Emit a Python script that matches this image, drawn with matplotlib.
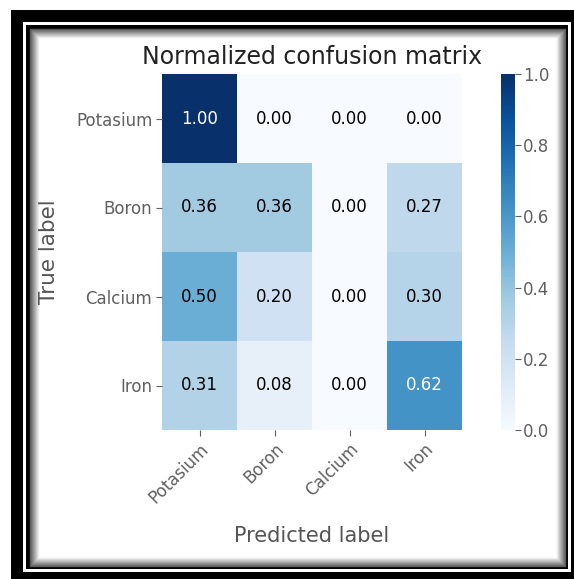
import numpy as np
import matplotlib
matplotlib.use("Agg")
import matplotlib.pyplot as plt
from matplotlib.patches import Rectangle

classes = ['Potasium', 'Boron', 'Calcium', 'Iron']
cm = np.array([
    [1.00, 0.00, 0.00, 0.00],
    [0.36, 0.36, 0.00, 0.27],
    [0.50, 0.20, 0.00, 0.30],
    [0.31, 0.08, 0.00, 0.62],
])

W, H = 574, 579
fig = plt.figure(figsize=(W / 100, H / 100), dpi=100)
fig.patch.set_facecolor('white')
plt.rcParams['font.family'] = ['DejaVu Sans']


def px_box(x0, y0, x1, y1):
    # pixel box (top-left origin) -> figure fraction rect
    return [x0 / W, 1 - y1 / H, (x1 - x0) / W, (y1 - y0) / H]


def frame_rect(x0, y0, x1, y1, **kw):
    l, b, w, h = px_box(x0, y0, x1, y1)
    fig.patches.append(Rectangle((l, b), w, h, transform=fig.transFigure, **kw))


# picture frame: thick black, thin white line, black, soft inner shadow
frame_rect(11, 10, 574, 579, facecolor='black', edgecolor='none', zorder=-5)
frame_rect(23, 22, 571, 572, facecolor='white', edgecolor='none', zorder=-4)
frame_rect(26, 25, 568, 569, facecolor='black', edgecolor='none', zorder=-3)
frame_rect(30, 29, 565, 566, facecolor='white', edgecolor='none', zorder=-2)
for i in range(10):
    g = 0.35 + 0.07 * i
    frame_rect(30 + i, 29 + i, 565 - i, 566 - i, facecolor='none',
               edgecolor=(g, g, g), linewidth=1.0, zorder=-1)

ax = fig.add_axes(px_box(162, 74, 462, 430))
cax = fig.add_axes(px_box(501, 74, 515, 430))

im = ax.imshow(cm, interpolation='nearest', cmap=plt.cm.Blues, aspect='auto',
               vmin=0, vmax=1)
ax.set_title('Normalized confusion matrix', fontsize=17, color='#222222', pad=7)

tick_color = '#606060'
ticks = np.arange(len(classes))
ax.set_xticks(ticks)
ax.set_yticks(ticks)
ax.set_xticklabels(classes, rotation=45, ha='right', rotation_mode='anchor')
ax.set_yticklabels(classes)
ax.tick_params(colors=tick_color, labelcolor=tick_color, labelsize=12,
               length=4, width=0.8, pad=3)
for s in ax.spines.values():
    s.set_visible(False)

thresh = cm.max() / 2.0
for i in range(cm.shape[0]):
    for j in range(cm.shape[1]):
        ax.text(j, i, format(cm[i, j], '.2f'), ha='center', va='center',
                fontsize=12, color='white' if cm[i, j] > thresh else 'black')

ax.set_ylabel('True label', fontsize=15.5, color='#555555', labelpad=12)
ax.set_xlabel('Predicted label', fontsize=15, color='#555555', labelpad=14)

cb = fig.colorbar(im, cax=cax)
cb.set_ticks([0.0, 0.2, 0.4, 0.6, 0.8, 1.0])
cb.outline.set_visible(False)
cax.tick_params(colors=tick_color, labelcolor=tick_color, labelsize=12,
                length=4, width=0.8, pad=2)

fig.savefig('out.png', dpi=100)
